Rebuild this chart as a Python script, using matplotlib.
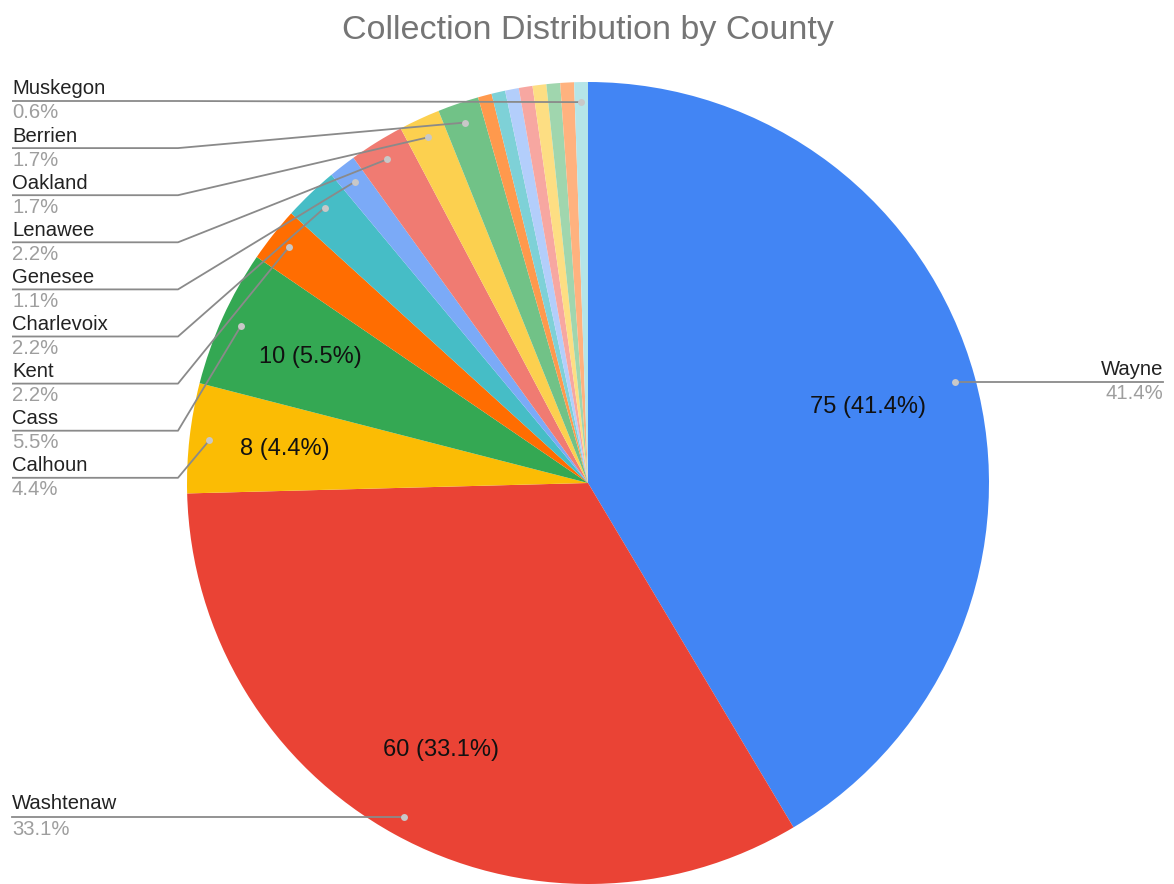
import numpy as np
import matplotlib
matplotlib.use("Agg")
import matplotlib.pyplot as plt

# ---- data ----
counties = ["Wayne", "Washtenaw", "Calhoun", "Cass", "Kent", "Charlevoix",
            "Genesee", "Lenawee", "Oakland", "Berrien",
            "", "", "", "", "", "", "", "Muskegon"]
counts = [75, 60, 8, 10, 4, 4, 2, 4, 3, 3, 1, 1, 1, 1, 1, 1, 1, 1]
colors = ["#4285F4", "#EA4335", "#FBBC04", "#34A853", "#FF6D01", "#46BDC6",
          "#7BAAF7", "#F07B72", "#FCD04F", "#71C287", "#FF994D", "#7ED1D7",
          "#B3CEFB", "#F7A7A1", "#FDDE83", "#A0D6AE", "#FFB27F", "#B5E5E8"]
inside_labelled = ["Wayne", "Washtenaw", "Calhoun", "Cass"]
left_labels = ["Muskegon", "Berrien", "Oakland", "Lenawee", "Genesee",
               "Charlevoix", "Kent", "Cass", "Calhoun"]
title = "Collection Distribution by County"

W, H = 1174, 884
FONT = "Liberation Sans"
total = sum(counts)

fig = plt.figure(figsize=(W / 100, H / 100), dpi=100)
ax = fig.add_axes([0, 0, 1, 1])


def Y(py):
    return H - py


cx, cy, R = 588, Y(483), 401

idx_iter = iter(range(len(counts)))


def autopct(p):
    i = next(idx_iter)
    if counties[i] in inside_labelled:
        return f"{counts[i]} ({p:.1f}%)"
    return ""


wedges, texts, autotexts = ax.pie(
    counts, colors=colors, startangle=90, counterclock=False,
    center=(cx, cy), radius=R, autopct=autopct, pctdistance=0.76,
    wedgeprops=dict(linewidth=0),
    textprops=dict(fontsize=17, color="#111111", family=FONT))

# Wayne's inside label is nudged slightly in the reference
for i, t in enumerate(autotexts):
    if counties[i] == "Wayne":
        t.set_position((868, Y(407)))

ax.set_xlim(0, W)
ax.set_ylim(0, H)
ax.set_aspect("equal")
ax.axis("off")

line_c = "#8a8a8a"
dot_c = "#c8c8c8"
name_c = "#222222"
pct_c = "#9e9e9e"
fs = 14.6


def dot_pos(i):
    w = wedges[i]
    mid = np.deg2rad((w.theta1 + w.theta2) / 2)
    return cx + 0.95 * R * np.cos(mid), cy + 0.95 * R * np.sin(mid)


def pct_text(i):
    return f"{100 * counts[i] / total:.1f}%"


# left labels stack
for k, name in enumerate(left_labels):
    i = counties.index(name)
    dx, dy = dot_pos(i)
    ly = Y(101 + 47.1 * k)
    ax.plot([dx, 178, 12], [dy, ly, ly], color=line_c, lw=1.3,
            solid_capstyle="butt", zorder=3)
    ax.plot([dx], [dy], "o", color=dot_c, ms=5, mec="none", zorder=4)
    ax.text(12, ly + 12, name, ha="left", va="center", fontsize=fs,
            color=name_c, family=FONT)
    ax.text(12, ly - 12, pct_text(i), ha="left", va="center", fontsize=fs,
            color=pct_c, family=FONT)

# Wayne (right)
i = counties.index("Wayne")
dx, dy = dot_pos(i)
ax.plot([dx, 1163], [dy, dy], color=line_c, lw=1.3, zorder=3)
ax.plot([dx], [dy], "o", color=dot_c, ms=5, mec="none", zorder=4)
ax.text(1163, dy + 12, "Wayne", ha="right", va="center", fontsize=fs,
        color=name_c, family=FONT)
ax.text(1163, dy - 12, pct_text(i), ha="right", va="center", fontsize=fs,
        color=pct_c, family=FONT)

# Washtenaw (bottom left)
i = counties.index("Washtenaw")
dx, dy = dot_pos(i)
ax.plot([dx, 12], [dy, dy], color=line_c, lw=1.3, zorder=3)
ax.plot([dx], [dy], "o", color=dot_c, ms=5, mec="none", zorder=4)
ax.text(12, dy + 13, "Washtenaw", ha="left", va="center", fontsize=fs,
        color=name_c, family=FONT)
ax.text(12, dy - 13, pct_text(i), ha="left", va="center", fontsize=fs,
        color=pct_c, family=FONT)

ax.text(588, Y(30), title, ha="center", va="center", fontsize=24.5,
        color="#757575", family=FONT)

fig.savefig("out.png", dpi=100)
